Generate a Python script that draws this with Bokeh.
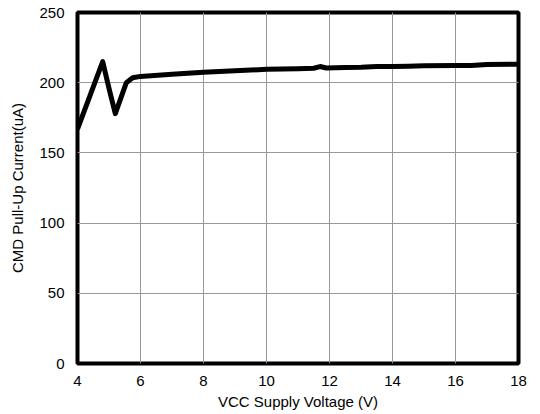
from bokeh.plotting import figure
from bokeh.embed import file_html
from bokeh.resources import INLINE
from bokeh.models import Range1d, FixedTicker

voltage = [4.0, 4.4, 4.8, 5.0, 5.2, 5.55, 5.75, 6.0, 7.0, 8.0, 9.0, 10.0, 11.0, 11.5, 11.7, 11.9, 12.5, 13.0, 13.5, 14.0, 14.5, 15.0, 16.0, 16.5, 17.0, 18.0]
current = [167, 191, 215, 196, 178, 200, 203.5, 204.5, 206, 207.5, 208.5, 209.5, 210, 210.3, 211.5, 210.5, 210.8, 211, 211.5, 211.5, 211.8, 212, 212.2, 212.3, 213, 213.2]

x_ticks = [4, 6, 8, 10, 12, 14, 16, 18]
y_ticks = [0, 50, 100, 150, 200, 250]

p = figure(width=540, height=414, output_backend="svg", toolbar_location=None,
           x_range=Range1d(4, 18), y_range=Range1d(0, 250),
           min_border_left=77, min_border_right=22, min_border_top=12, min_border_bottom=51)

p.line(voltage, current, line_width=5, line_color="black", line_join="round")

p.xaxis.ticker = FixedTicker(ticks=x_ticks)
p.yaxis.ticker = FixedTicker(ticks=y_ticks)
p.xaxis.axis_label = "VCC Supply Voltage (V)"
p.yaxis.axis_label = "CMD Pull-Up Current(uA)"
for ax in (p.xaxis, p.yaxis):
    ax.axis_line_color = None
    ax.major_tick_line_color = None
    ax.minor_tick_line_color = None
    ax.major_tick_out = 0
    ax.major_tick_in = 0
    ax.major_label_text_font = "Liberation Sans"
    ax.major_label_text_font_size = "15px"
    ax.major_label_text_color = "black"
    ax.axis_label_text_font = "Liberation Sans"
    ax.axis_label_text_font_size = "15px"
    ax.axis_label_text_font_style = "normal"
    ax.axis_label_text_color = "black"
p.xaxis.major_label_standoff = 12
p.yaxis.major_label_standoff = 13
p.xaxis.axis_label_standoff = 4
p.yaxis.axis_label_standoff = 10

p.xgrid.ticker = FixedTicker(ticks=x_ticks)
p.ygrid.ticker = FixedTicker(ticks=y_ticks)
p.grid.grid_line_color = "#999999"
p.grid.grid_line_width = 1
p.outline_line_color = "black"
p.outline_line_width = 4
p.outline_line_alpha = 1
p.background_fill_color = "white"
p.border_fill_color = "white"

open("out.html", "w").write(file_html(p, INLINE))
